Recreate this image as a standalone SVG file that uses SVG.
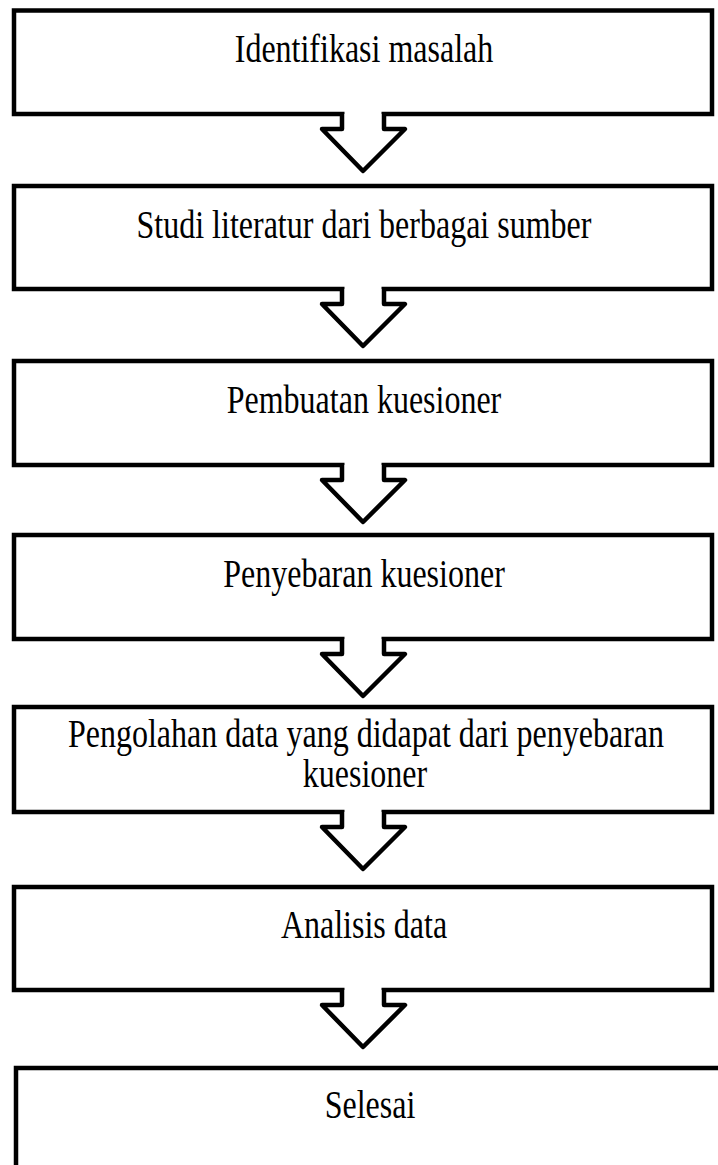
<svg xmlns="http://www.w3.org/2000/svg" width="718" height="1165" viewBox="0 0 718 1165">
<style>
.box{fill:#fff;stroke:#000;stroke-width:4.5;stroke-linejoin:miter}
.arr{fill:#fff;stroke:#000;stroke-width:4.5;stroke-linejoin:round}
.gap{fill:#fff;stroke:none}
.lbl{font-family:"Liberation Serif","Times New Roman",serif;font-size:32px;fill:#000;text-anchor:middle}
</style>
<defs>
<g id="arrow">
<rect class="gap" x="344.5" y="-4" width="37" height="9"/>
<path class="arr" d="M342,0 V15 H322 L363,57 L405,15 H384 V0"/>
</g>
</defs>
<rect width="718" height="1165" fill="#fff"/>
<g id="n1"><rect class="box" x="14" y="10.5" width="698" height="103.5"/><text class="lbl" transform="translate(364,62) scale(1,1.22)">Identifikasi masalah</text></g>
<g id="n2"><rect class="box" x="14" y="186" width="698" height="103"/><text class="lbl" transform="translate(364,237.5) scale(1,1.22)">Studi literatur dari berbagai sumber</text></g>
<g id="n3"><rect class="box" x="14" y="361" width="698" height="104"/><text class="lbl" transform="translate(364,412.5) scale(1,1.22)">Pembuatan kuesioner</text></g>
<g id="n4"><rect class="box" x="14" y="535" width="698" height="104"/><text class="lbl" transform="translate(364,586.5) scale(1,1.22)">Penyebaran kuesioner</text></g>
<g id="n5"><rect class="box" x="14" y="707" width="698" height="105"/><text class="lbl" transform="translate(366,746.5) scale(1,1.22)">Pengolahan data yang didapat dari penyebaran</text><text class="lbl" transform="translate(365,786.5) scale(1,1.22)">kuesioner</text></g>
<g id="n6"><rect class="box" x="14" y="887" width="698" height="103"/><text class="lbl" transform="translate(364,937.5) scale(1,1.22)">Analisis data</text></g>
<g id="n7"><rect class="box" x="16" y="1068" width="720" height="120"/><text class="lbl" transform="translate(370,1117.5) scale(1,1.22)">Selesai</text></g>
<g id="connectors">
<use href="#arrow" transform="translate(0,114)"/>
<use href="#arrow" transform="translate(0,289)"/>
<use href="#arrow" transform="translate(0,465)"/>
<use href="#arrow" transform="translate(0,639)"/>
<use href="#arrow" transform="translate(0,812)"/>
<use href="#arrow" transform="translate(0,990)"/>
</g>
</svg>
